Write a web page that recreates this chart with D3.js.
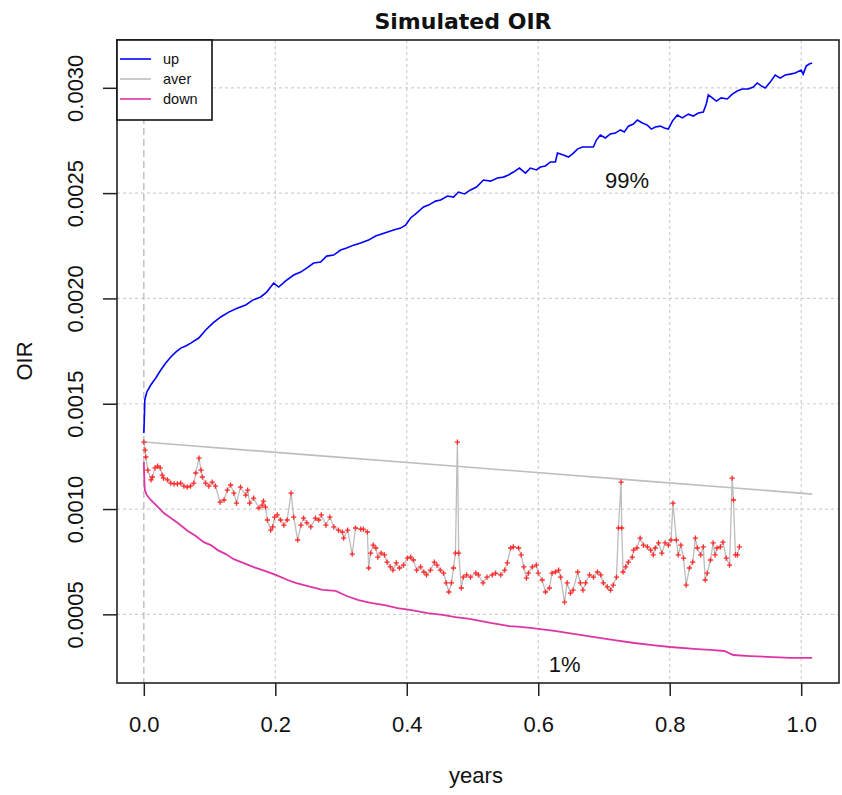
<!DOCTYPE html>
<html><head><meta charset="utf-8">
<script src="https://cdn.jsdelivr.net/npm/d3@7/dist/d3.min.js"></script>
<style>body{margin:0;background:#fff}</style>
</head><body>
<svg id="c" width="842" height="795"></svg>
<script>
// ---------- data ----------
const chartTitle = "Simulated OIR";
const xLabel = "years";
const yLabel = "OIR";
const xTicks = [0, 0.2, 0.4, 0.6, 0.8, 1.0];
const yTicks = [0.0005, 0.0010, 0.0015, 0.0020, 0.0025, 0.0030];
const legendLabels = ["up", "aver", "down"];
const seriesColors = ["#0000ff", "#bebebe", "#dc36a4"];
const annotations = [{text: "99%", x: 0.735, y: 0.002525}, {text: "1%", x: 0.64, y: 0.000225}];

const upSeries = [
[0,0.001361],[0.0008,0.001432],[0.0015,0.001518],[0.0046,0.001556],[0.0106,0.001589],[0.0182,0.001622],
[0.0258,0.00166],[0.0334,0.001693],[0.041,0.001722],[0.0486,0.001745],[0.0562,0.001764],[0.0638,0.001774],
[0.0714,0.001788],[0.0836,0.001812],[0.0942,0.00185],[0.1049,0.001883],[0.117,0.001912],[0.1292,0.001935],
[0.1429,0.001954],[0.155,0.001969],[0.1657,0.001992],[0.1778,0.002007],[0.1869,0.00203],[0.1976,0.002073],
[0.2052,0.002054],[0.2158,0.002083],[0.228,0.002111],[0.2386,0.002125],[0.2477,0.002144],[0.2584,0.002168],
[0.269,0.002173],[0.2781,0.002201],[0.2888,0.002206],[0.2994,0.00223],[0.3085,0.002239],[0.3191,0.002253],
[0.3298,0.002263],[0.3419,0.002277],[0.3526,0.002296],[0.3617,0.002306],[0.3708,0.002315],[0.3799,0.002325],
[0.3906,0.002334],[0.3982,0.002348],[0.4058,0.002382],[0.4149,0.002405],[0.4255,0.002434],[0.4331,0.002443],
[0.4438,0.002462],[0.4514,0.002467],[0.462,0.002486],[0.4711,0.002481],[0.4787,0.002505],[0.4878,0.002496],
[0.497,0.002515],[0.5061,0.002529],[0.5167,0.002562],[0.5274,0.002557],[0.538,0.002572],[0.5471,0.002576],
[0.5547,0.002586],[0.5623,0.0026],[0.5714,0.002619],[0.5805,0.002595],[0.5881,0.002619],[0.5973,0.00261],
[0.6033,0.002624],[0.6109,0.002629],[0.6185,0.002648],[0.6261,0.002648],[0.6292,0.00269],[0.6383,0.002681],
[0.6459,0.002671],[0.6535,0.00269],[0.6596,0.002709],[0.6672,0.002719],[0.6839,0.002719],[0.6884,0.002752],
[0.6945,0.002776],[0.7021,0.002762],[0.7097,0.002781],[0.7173,0.002785],[0.7249,0.0028],[0.731,0.00279],
[0.7371,0.002818],[0.7447,0.002828],[0.7508,0.002847],[0.7584,0.002833],[0.766,0.002823],[0.772,0.002804],
[0.7781,0.002814],[0.7857,0.002818],[0.7918,0.002809],[0.7979,0.002804],[0.804,0.002842],[0.8116,0.002871],
[0.8191,0.002857],[0.8283,0.002875],[0.8359,0.002866],[0.8435,0.00288],[0.8511,0.002885],[0.8556,0.002923],
[0.8587,0.002966],[0.8647,0.002952],[0.8708,0.002937],[0.8784,0.002952],[0.8875,0.002947],[0.8951,0.00297],
[0.9027,0.002985],[0.9103,0.002994],[0.9195,0.002994],[0.9271,0.003004],[0.9331,0.003023],[0.9392,0.003009],
[0.9453,0.002999],[0.9529,0.003027],[0.9605,0.003061],[0.9681,0.003046],[0.9757,0.003061],[0.9833,0.003065],
[0.9909,0.00307],[1.0,0.003084],[1.003,0.003065],[1.0076,0.003103],[1.0122,0.003113],[1.0167,0.003118]
];

const averSeries = [[0,0.001318],[0.25,0.001257],[0.5,0.001197],[0.75,0.001136],[1.0167,0.001071]];

const downSeries = [
[0,0.001223],[0.0008,0.001138],[0.0015,0.00109],[0.0046,0.001066],[0.0106,0.001043],[0.0213,0.00101],
[0.0304,0.000981],[0.041,0.000957],[0.0517,0.000934],[0.0669,0.000896],[0.079,0.000872],[0.0912,0.000843],
[0.1018,0.000829],[0.1125,0.000805],[0.1246,0.000786],[0.1368,0.000762],[0.152,0.000743],[0.1672,0.000724],
[0.1839,0.000706],[0.2006,0.000687],[0.2188,0.000663],[0.231,0.000649],[0.2538,0.00063],[0.272,0.000616],
[0.2918,0.000611],[0.3085,0.000587],[0.3267,0.000568],[0.345,0.000554],[0.3663,0.000544],[0.386,0.00053],
[0.4073,0.00052],[0.4316,0.000506],[0.4544,0.000497],[0.4742,0.000487],[0.4954,0.000478],[0.5274,0.000459],
[0.5562,0.000444],[0.573,0.00044],[0.5912,0.000435],[0.6246,0.000421],[0.6565,0.000406],[0.6854,0.000392],
[0.7158,0.000378],[0.7462,0.000364],[0.7736,0.000354],[0.8009,0.000345],[0.8419,0.000335],[0.8617,0.000331],
[0.883,0.000326],[0.8967,0.000307],[0.9225,0.000302],[0.9574,0.000297],[0.9833,0.000293],[1.0167,0.000293]
];

const observedSeries = [
[0,0.001318],[0.002,0.00128],[0.003,0.001247],[0.006,0.001185],[0.011,0.001138],[0.013,0.001152],
[0.017,0.001195],[0.021,0.001204],[0.025,0.001195],[0.028,0.001161],[0.030,0.001147],[0.036,0.001138],
[0.041,0.001123],[0.046,0.001119],[0.051,0.001119],[0.056,0.001123],[0.061,0.001109],[0.066,0.001104],
[0.071,0.001109],[0.076,0.001123],[0.079,0.001171],[0.084,0.001242],[0.087,0.001185],[0.089,0.001152],
[0.094,0.001123],[0.099,0.001109],[0.104,0.001128],[0.109,0.001109],[0.116,0.001033],[0.122,0.001043],
[0.127,0.00109],[0.132,0.001114],[0.137,0.001076],[0.141,0.001028],[0.147,0.001104],[0.155,0.001066],
[0.158,0.00109],[0.161,0.001028],[0.167,0.001052],[0.175,0.001005],[0.180,0.001019],[0.182,0.001038],
[0.185,0.001009],[0.188,0.000948],[0.193,0.0009],[0.196,0.000915],[0.199,0.000962],[0.203,0.000972],
[0.208,0.000948],[0.213,0.000924],[0.218,0.000948],[0.224,0.001076],[0.228,0.000962],[0.234,0.000853],
[0.239,0.000924],[0.243,0.000957],[0.248,0.000934],[0.254,0.000915],[0.261,0.000957],[0.266,0.000948],
[0.270,0.000972],[0.277,0.000924],[0.283,0.000962],[0.289,0.000915],[0.296,0.0009],[0.302,0.000891],
[0.304,0.000862],[0.310,0.0009],[0.317,0.000786],[0.322,0.00091],[0.330,0.000905],[0.334,0.000905],
[0.340,0.000891],[0.342,0.00072],[0.345,0.000791],[0.349,0.000829],[0.353,0.000815],[0.356,0.000772],
[0.361,0.000791],[0.366,0.000782],[0.370,0.000748],[0.375,0.000725],[0.379,0.00071],[0.384,0.000744],
[0.389,0.00072],[0.395,0.000734],[0.401,0.000767],[0.406,0.000772],[0.410,0.000758],[0.415,0.00071],
[0.421,0.000725],[0.426,0.000701],[0.430,0.000687],[0.436,0.00071],[0.442,0.000748],[0.446,0.000734],
[0.451,0.00071],[0.456,0.000696],[0.460,0.000649],[0.464,0.000606],[0.468,0.000649],[0.471,0.00072],
[0.474,0.000791],[0.477,0.001318],[0.479,0.000791],[0.483,0.000625],[0.486,0.000677],[0.491,0.000687],
[0.497,0.000677],[0.505,0.000696],[0.509,0.000687],[0.516,0.000649],[0.522,0.000677],[0.530,0.000687],
[0.535,0.000696],[0.543,0.000687],[0.549,0.00071],[0.553,0.000744],[0.558,0.000815],[0.562,0.00082],
[0.570,0.000815],[0.574,0.000782],[0.578,0.000725],[0.582,0.000672],[0.585,0.000696],[0.591,0.000725],
[0.597,0.000734],[0.600,0.000696],[0.606,0.000663],[0.611,0.000606],[0.617,0.000625],[0.621,0.000696],
[0.626,0.000701],[0.631,0.00071],[0.634,0.000677],[0.640,0.000558],[0.644,0.000649],[0.649,0.000601],
[0.653,0.000615],[0.660,0.000701],[0.664,0.000649],[0.668,0.000615],[0.672,0.000649],[0.678,0.000687],
[0.684,0.000677],[0.690,0.000701],[0.695,0.000687],[0.699,0.000649],[0.705,0.00063],[0.710,0.000615],
[0.714,0.000639],[0.719,0.000677],[0.722,0.00091],[0.726,0.001128],[0.727,0.00091],[0.729,0.000701],
[0.733,0.000725],[0.737,0.000748],[0.743,0.000772],[0.745,0.000805],[0.750,0.000815],[0.755,0.000862],
[0.760,0.000829],[0.766,0.00082],[0.771,0.000805],[0.775,0.000782],[0.778,0.000815],[0.783,0.000839],
[0.788,0.000791],[0.793,0.000839],[0.798,0.000829],[0.802,0.000853],[0.805,0.001028],[0.810,0.000853],
[0.813,0.000782],[0.817,0.000829],[0.821,0.000767],[0.825,0.000639],[0.830,0.00072],[0.835,0.000748],
[0.839,0.000862],[0.842,0.000815],[0.847,0.000782],[0.851,0.00082],[0.854,0.000663],[0.857,0.000696],
[0.862,0.000758],[0.866,0.000839],[0.869,0.000782],[0.872,0.000815],[0.877,0.00082],[0.881,0.000843],
[0.886,0.000767],[0.891,0.000734],[0.895,0.001147],[0.897,0.001043],[0.900,0.000782],[0.903,0.000782],
[0.906,0.00082]
];

// ---------- layout ----------
const svg = d3.select("#c");
const L = 117, R = 839, T = 40, B = 683;
const x = d3.scaleLinear().domain([-0.0408, 1.0575]).range([L, R]);
const y = d3.scaleLinear().domain([0.000174, 0.003227]).range([B, T]);
const font = "'Liberation Sans', Arial, sans-serif";

svg.append("rect").attr("width", 842).attr("height", 795).attr("fill", "#fff");

// grid
const grid = svg.append("g");
grid.selectAll("line.h").data(yTicks).join("line")
  .attr("x1", L).attr("x2", R).attr("y1", d => y(d)).attr("y2", d => y(d))
  .attr("stroke", "#cfcfcf").attr("stroke-width", 1.2).attr("stroke-dasharray", "3,3");
grid.selectAll("line.v").data(xTicks.filter(d => d > 0)).join("line")
  .attr("y1", T).attr("y2", B).attr("x1", d => x(d)).attr("x2", d => x(d))
  .attr("stroke", "#cfcfcf").attr("stroke-width", 1.2).attr("stroke-dasharray", "3,3");
grid.append("line").attr("y1", T).attr("y2", B).attr("x1", x(0)).attr("x2", x(0))
  .attr("stroke", "#bdbdbd").attr("stroke-width", 1.4).attr("stroke-dasharray", "7,4");

// lines
const line = d3.line().x(d => x(d[0])).y(d => y(d[1]));
svg.append("path").datum(averSeries).attr("d", line).attr("fill", "none")
  .attr("stroke", seriesColors[1]).attr("stroke-width", 1.6);
svg.append("path").datum(observedSeries).attr("d", line).attr("fill", "none")
  .attr("stroke", "#bdbdbd").attr("stroke-width", 1.3);
svg.append("g").selectAll("path").data(observedSeries).join("path")
  .attr("transform", d => `translate(${x(d[0])},${y(d[1])})`)
  .attr("d", "M-2.6,0H2.6M0,-2.6V2.6")
  .attr("stroke", "#ff2a2a").attr("stroke-width", 1.3).attr("fill", "none");
svg.append("path").datum(upSeries).attr("d", line).attr("fill", "none")
  .attr("stroke", seriesColors[0]).attr("stroke-width", 1.6).attr("stroke-linejoin", "miter");
svg.append("path").datum(downSeries).attr("d", line).attr("fill", "none")
  .attr("stroke", seriesColors[2]).attr("stroke-width", 1.8);

// annotations
svg.selectAll("text.ann").data(annotations).join("text")
  .attr("x", d => x(d.x)).attr("y", d => y(d.y)).attr("text-anchor", "middle")
  .attr("font-family", font).attr("font-size", 22).attr("fill", "#111").text(d => d.text);

// axes
const xAxis = d3.axisBottom(x).tickValues(xTicks).tickFormat(d3.format(".1f")).tickSize(13).tickPadding(20);
const gx = svg.append("g").attr("transform", `translate(0,${B})`).call(xAxis);
gx.select(".domain").remove();
gx.selectAll("line").attr("stroke", "#222").attr("stroke-width", 1.5);
gx.selectAll("text").attr("font-family", font).attr("font-size", 22).attr("fill", "#111").attr("dy", "0.71em");

const yAxis = d3.axisLeft(y).tickValues(yTicks).tickFormat(d3.format(".4f")).tickSize(14).tickPadding(0);
const gy = svg.append("g").attr("transform", `translate(${L},0)`).call(yAxis);
gy.select(".domain").remove();
gy.selectAll("line").attr("stroke", "#222").attr("stroke-width", 1.5);
gy.selectAll("text").attr("font-family", font).attr("font-size", 22).attr("fill", "#111")
  .attr("text-anchor", "middle").attr("x", null).attr("dy", null)
  .attr("transform", "translate(-34,0) rotate(-90)");

// plot box
svg.append("rect").attr("x", L).attr("y", T).attr("width", R - L).attr("height", B - T)
  .attr("fill", "none").attr("stroke", "#222").attr("stroke-width", 1.6);

// legend
const lg = svg.append("g");
lg.append("rect").attr("x", L).attr("y", T).attr("width", 95).attr("height", 80)
  .attr("fill", "#fff").attr("stroke", "#111").attr("stroke-width", 1.6);
legendLabels.forEach((lab, i) => {
  const yy = T + 19 + i * 20;
  lg.append("line").attr("x1", L + 3).attr("x2", L + 34).attr("y1", yy).attr("y2", yy)
    .attr("stroke", seriesColors[i]).attr("stroke-width", 1.6);
  lg.append("text").attr("x", L + 46).attr("y", yy + 5).attr("font-family", font)
    .attr("font-size", 14.5).attr("fill", "#111").text(lab);
});

// titles
svg.append("text").attr("x", 463).attr("y", 29).attr("text-anchor", "middle")
  .attr("font-family", "'DejaVu Sans', sans-serif").attr("font-weight", "bold").attr("font-size", 22)
  .attr("fill", "#111").text(chartTitle);
svg.append("text").attr("x", 476).attr("y", 783).attr("text-anchor", "middle")
  .attr("font-family", font).attr("font-size", 22).attr("fill", "#111").text(xLabel);
svg.append("text").attr("transform", "translate(32,361) rotate(-90)").attr("text-anchor", "middle")
  .attr("font-family", font).attr("font-size", 22).attr("fill", "#111").text(yLabel);
</script>
</body></html>
